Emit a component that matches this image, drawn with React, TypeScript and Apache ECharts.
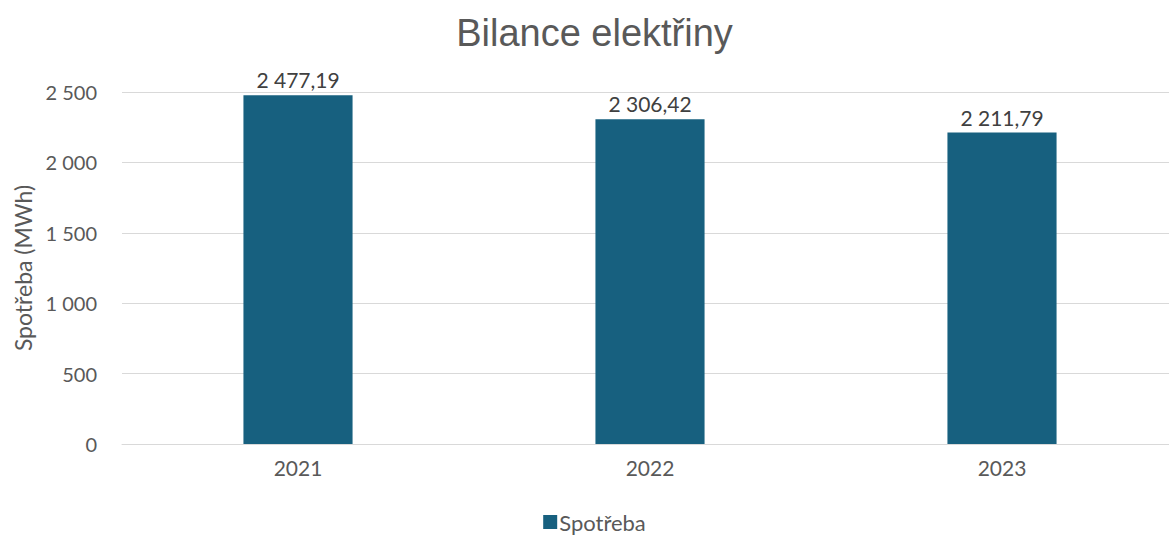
import React, { useEffect, useRef } from "react";
import * as echarts from "echarts";

const categories = ["2021", "2022", "2023"];
const spotreba = [2477.19, 2306.42, 2211.79];
const yTicks = [0, 500, 1000, 1500, 2000, 2500];

const fmtInt = (v: number) => String(Math.round(v)).replace(/\B(?=(\d{3})+(?!\d))/g, " ");
const fmtDec = (v: number) => {
  const [i, d] = v.toFixed(2).split(".");
  return i.replace(/\B(?=(\d{3})+(?!\d))/g, " ") + "," + d;
};

export default function App() {
  const ref = useRef<HTMLDivElement>(null);
  useEffect(() => {
    if (!ref.current) return;
    const chart = echarts.init(ref.current, null, { renderer: "svg" });
    const labelFont = "Lato, 'Open Sans', sans-serif";
    chart.setOption({
      animation: false,
      backgroundColor: "#ffffff",
      title: {
        text: "Bilance elektřiny",
        left: "center",
        top: 9,
        textStyle: { fontFamily: "'Liberation Sans', Arial, sans-serif", fontSize: 38, fontWeight: "normal", color: "#595959" },
      },
      legend: {
        bottom: 0,
        left: "center",
        icon: "rect",
        itemWidth: 14,
        itemHeight: 14,
        itemGap: 4,
        textStyle: { fontFamily: labelFont, fontSize: 22, color: "#595959", padding: [0, 0, 0, -3] },
        data: ["Spotřeba"],
      },
      grid: { left: 122, top: 92, right: 11, height: 352 },
      xAxis: {
        type: "category",
        data: categories,
        axisLine: { lineStyle: { color: "#d9d9d9", width: 1 } },
        axisTick: { show: false },
        axisLabel: { fontFamily: labelFont, fontSize: 21, color: "#595959", margin: 13 },
      },
      yAxis: {
        type: "value",
        min: yTicks[0],
        max: yTicks[yTicks.length - 1],
        interval: 500,
        name: "Spotřeba (MWh)",
        nameLocation: "middle",
        nameGap: 88,
        nameTextStyle: { fontFamily: labelFont, fontSize: 23, color: "#595959" },
        axisLine: { show: false },
        axisTick: { show: false },
        splitLine: { lineStyle: { color: "#d9d9d9", width: 1 } },
        axisLabel: { fontFamily: labelFont, fontSize: 20, color: "#595959", margin: 25, formatter: (v: number) => fmtInt(v) },
      },
      series: [
        {
          name: "Spotřeba",
          type: "bar",
          data: spotreba,
          barWidth: "31%",
          itemStyle: { color: "#17607f" },
          label: {
            show: true,
            position: "top",
            distance: 5,
            fontFamily: labelFont,
            fontSize: 21,
            color: "#404040",
            formatter: (p: any) => fmtDec(p.value),
          },
        },
      ],
    });
    return () => chart.dispose();
  }, []);
  return (
    <div style={{ position: "absolute", left: 0, top: 0, width: 1169, height: 538, overflow: "hidden", background: "#ffffff" }}>
      <div ref={ref} style={{ width: 1189, height: 538 }} />
    </div>
  );
}
